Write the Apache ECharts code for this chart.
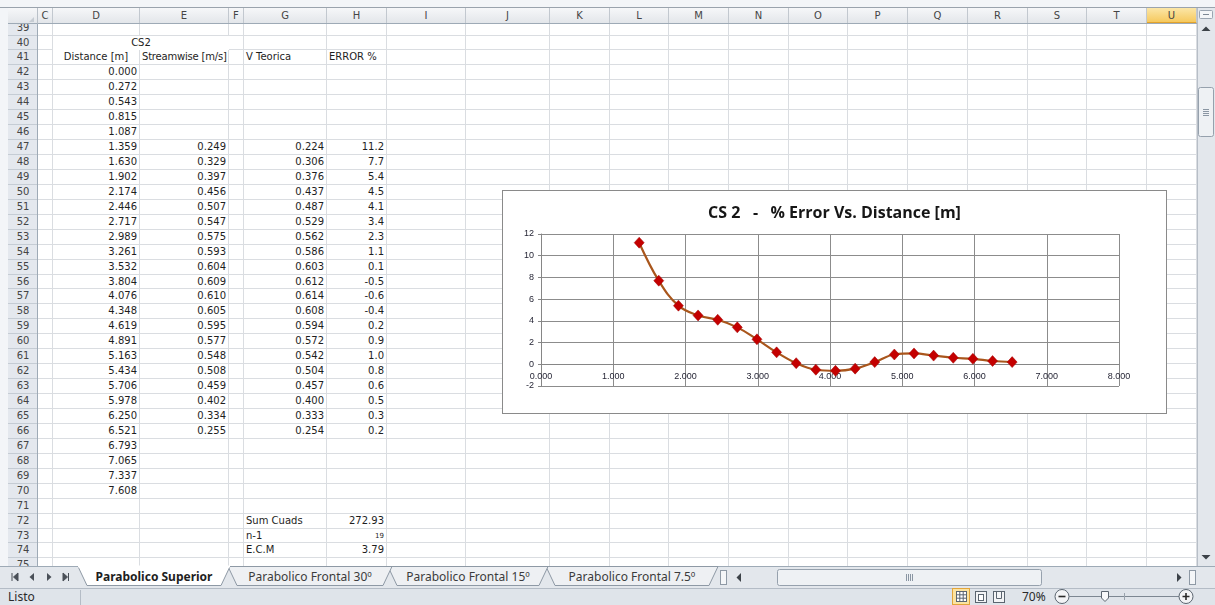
<!DOCTYPE html>
<html>
<head>
<meta charset="utf-8">
<script src="https://cdn.jsdelivr.net/npm/echarts@6/dist/echarts.min.js"></script>
<style>
  body { margin:0; width:1215px; height:605px; overflow:hidden; background:#fff; position:relative;
         font-family:"DejaVu Sans", Verdana, sans-serif; }
  .a { position:absolute; box-sizing:border-box; }
  .txt { font-size:10px; color:#1e1e1e; white-space:nowrap; }
  .hdr { font-size:10px; color:#454545; text-align:center; white-space:nowrap; }
</style>
</head>
<body>
<div id="sheet"></div>
<div id="chart" class="a" style="left:502px;top:190px;width:665px;height:224px;border:1px solid #8a8a8a;background:#fff;"></div>
<svg id="bars" class="a" style="left:0;top:0;" width="1215" height="605"></svg>

<script>
// ---- worksheet values (CS2) ----
const distance = [0.000, 0.272, 0.543, 0.815, 1.087, 1.359, 1.630, 1.902, 2.174, 2.446,
                  2.717, 2.989, 3.261, 3.532, 3.804, 4.076, 4.348, 4.619, 4.891, 5.163,
                  5.434, 5.706, 5.978, 6.250, 6.521, 6.793, 7.065, 7.337, 7.608];
const streamwise = [0.249, 0.329, 0.397, 0.456, 0.507, 0.547, 0.575, 0.593, 0.604, 0.609,
                    0.610, 0.605, 0.595, 0.577, 0.548, 0.508, 0.459, 0.402, 0.334, 0.255];
const vTeorica   = [0.224, 0.306, 0.376, 0.437, 0.487, 0.529, 0.562, 0.586, 0.603, 0.612,
                    0.614, 0.608, 0.594, 0.572, 0.542, 0.504, 0.457, 0.400, 0.333, 0.254];
const errorPct   = [11.2, 7.7, 5.4, 4.5, 4.1, 3.4, 2.3, 1.1, 0.1, -0.5,
                    -0.6, -0.4, 0.2, 0.9, 1.0, 0.8, 0.6, 0.5, 0.3, 0.2];
const summaryLabels = ['Sum Cuads', 'n-1', 'E.C.M'];
const summaryValues = ['272.93', '19', '3.79'];
const sheetTabs = ['Parabolico Superior', 'Parabolico Frontal 30º', 'Parabolico Frontal 15º', 'Parabolico Frontal 7.5º'];
const xTicks = { min: 0, max: 8, step: 1 };
const yTicks = { min: -2, max: 12, step: 2 };

const FIRST_ROW = 39, LAST_ROW = 75;
const DIST_ROW = 42;     // first row of the distance column
const DATA_ROW = 47;     // first row with measured values
const SUM_ROW = 72;

// ---- worksheet layout ----
const cols = [['C',38,53],['D',53,140],['E',140,229],['F',229,244],['G',244,327],['H',327,387],
  ['I',387,466],['J',466,550],['K',550,610],['L',610,669],['M',669,729],['N',729,789],
  ['O',789,848],['P',848,908],['Q',908,968],['R',968,1028],['S',1028,1087],['T',1087,1147],['U',1147,1197]];
const colMap = {}; cols.forEach(c => colMap[c[0]] = c);
const ROW_H = 14.94, ROW40_TOP = 35.5;
const GRID_TOP = 24, GRID_BOTTOM = 566, GRID_LEFT = 38, GRID_RIGHT = 1197;
const rowTop = r => ROW40_TOP + (r - 40) * ROW_H;

const sheet = document.getElementById('sheet');
function box(parent, x, y, w, h, css, text, cls) {
  const d = document.createElement('div');
  d.className = 'a' + (cls ? ' ' + cls : '');
  d.style.cssText = `left:${x}px;top:${y}px;width:${w}px;height:${h}px;` + (css || '');
  if (text != null) d.textContent = text;
  parent.appendChild(d);
  return d;
}

// window strip above the headers
box(sheet, 0, 0, 1215, 8, 'background:#f3f5f8;border-bottom:1px solid #9aa3ad;');
box(sheet, 0, 8, 8, 558, 'background:#f3f5f8;');

// cell area
const area = box(sheet, GRID_LEFT, GRID_TOP, GRID_RIGHT - GRID_LEFT, GRID_BOTTOM - GRID_TOP, 'overflow:hidden;background:#fff;');
cols.forEach(c => box(area, c[2] - GRID_LEFT - 1, 0, 1, GRID_BOTTOM - GRID_TOP, 'background:#dadde1;'));
for (let r = FIRST_ROW; r <= LAST_ROW; r++) {
  box(area, 0, rowTop(r) + ROW_H - GRID_TOP - 1, GRID_RIGHT - GRID_LEFT, 1, 'background:#dadde1;');
}
function cell(col, row, text, align, css) {
  const c = colMap[col];
  const y = rowTop(row) - GRID_TOP;
  box(area, c[1] - GRID_LEFT + 2, y, c[2] - c[1] - 5, ROW_H,
      `line-height:${ROW_H}px;text-align:${align};` + (css || ''), text, 'txt');
}
// merged title over D:E
box(area, colMap.D[1] - GRID_LEFT, rowTop(40) - GRID_TOP, colMap.E[2] - colMap.D[1], ROW_H,
    `line-height:${ROW_H}px;text-align:center;background:#fff;`, 'CS2', 'txt');
cell('D', 41, 'Distance [m]', 'center');
cell('E', 41, 'Streamwise [m/s]', 'center', 'letter-spacing:-0.2px;');
cell('G', 41, 'V Teorica', 'left');
cell('H', 41, 'ERROR %', 'left');
distance.forEach((v, i) => cell('D', DIST_ROW + i, v.toFixed(3), 'right'));
streamwise.forEach((v, i) => cell('E', DATA_ROW + i, v.toFixed(3), 'right'));
vTeorica.forEach((v, i) => cell('G', DATA_ROW + i, v.toFixed(3), 'right'));
errorPct.forEach((v, i) => cell('H', DATA_ROW + i, v.toFixed(1), 'right'));
summaryLabels.forEach((t, i) => cell('G', SUM_ROW + i, t, 'left'));
summaryValues.forEach((t, i) => cell('H', SUM_ROW + i, t, 'right', i === 1 ? 'font-size:7px;' : ''));

// column headers
box(sheet, 8, 8, 30, 16, 'background:linear-gradient(#f6f7f9,#e3e6ea);border-right:1px solid #b9c0c8;border-bottom:1px solid #9eaab6;');
box(sheet, 29, 17, 0, 0, 'border-left:5px solid transparent;border-bottom:5px solid #c6ccd3;');
const colHdr = box(sheet, GRID_LEFT, 8, GRID_RIGHT - GRID_LEFT, 16, 'overflow:hidden;border-bottom:1px solid #9eaab6;background:linear-gradient(#f6f7f9,#e3e6ea);');
cols.forEach(c => {
  const sel = c[0] === 'U';
  box(colHdr, c[1] - GRID_LEFT, 0, c[2] - c[1], 16,
      'line-height:15px;border-right:1px solid #c2c8cf;' +
      (sel ? 'background:linear-gradient(#fbe6a7,#f6c95e);border-bottom:2px solid #e3a32b;' : ''),
      c[0], 'hdr');
});

// row headers
const rowHdr = box(sheet, 8, GRID_TOP, 30, GRID_BOTTOM - GRID_TOP, 'overflow:hidden;background:#e4e8ee;border-right:1px solid #9eaab6;');
for (let r = FIRST_ROW; r <= LAST_ROW; r++) {
  box(rowHdr, 0, rowTop(r) - GRID_TOP, 30, ROW_H,
      `line-height:${ROW_H}px;border-bottom:1px solid #c5ccd4;`, String(r), 'hdr');
}

// scroll bars, sheet tabs and status bar
const svgNS = 'http://www.w3.org/2000/svg';
const svg = document.getElementById('bars');
function el(tag, attrs, text) {
  const e = document.createElementNS(svgNS, tag);
  for (const k in attrs) e.setAttribute(k, attrs[k]);
  if (text != null) e.textContent = text;
  svg.appendChild(e);
  return e;
}
// vertical scroll bar
el('rect', { x: 1197, y: 8, width: 18, height: 558, fill: '#e3e7ec' });
el('line', { x1: 1197.5, y1: 8, x2: 1197.5, y2: 566, stroke: '#b7bec7' });
el('rect', { x: 1199.5, y: 10.5, width: 13, height: 8, fill: '#f4f6f8', stroke: '#9aa5b1', rx: 1 });
el('line', { x1: 1203, y1: 14.5, x2: 1209, y2: 14.5, stroke: '#7d8894' });
el('path', { d: 'M1201.5 31 L1206 26.5 L1210.5 31 Z', fill: '#3c4248' });
el('rect', { x: 1198.5, y: 87.5, width: 15, height: 49, fill: '#eef1f4', stroke: '#96a1ad', rx: 2 });
for (let k = 0; k < 4; k++) el('line', { x1: 1203, y1: 109.5 + k * 2, x2: 1209, y2: 109.5 + k * 2, stroke: '#8a96a3' });
el('path', { d: 'M1201.5 555 L1206 559.5 L1210.5 555 Z', fill: '#3c4248' });

// tab strip
el('rect', { x: 0, y: 566, width: 1215, height: 22, fill: '#e3e7ec' });
el('line', { x1: 0, y1: 566.5, x2: 1215, y2: 566.5, stroke: '#9eaab6' });
// navigation buttons
el('path', { d: 'M12 573 L12 581 M18 573 L13.5 577 L18 581 Z', stroke: '#4a5058', fill: '#4a5058' });
el('path', { d: 'M34 573 L29.5 577 L34 581 Z', fill: '#4a5058' });
el('path', { d: 'M47 573 L51.5 577 L47 581 Z', fill: '#4a5058' });
el('path', { d: 'M63 573 L67.5 577 L63 581 Z M68.5 573 L68.5 581', stroke: '#4a5058', fill: '#4a5058' });
const tabPos = [[78, 230], [228, 392], [388, 548], [546, 718]];
for (let i = sheetTabs.length - 1; i >= 0; i--) {
  const [x0, x1] = tabPos[i];
  const active = i === 0;
  el('path', { d: `M${x0} 566.5 L${x1} 566.5 L${x1 - 9} 585.5 L${x0 + 9} 585.5 Z`,
               fill: active ? '#ffffff' : '#eef0f3', stroke: '#8e99a5' });
  el('text', { x: (x0 + x1) / 2, y: 581, 'text-anchor': 'middle', 'font-family': '"Noto Sans", sans-serif',
               'font-size': 12, 'font-weight': active ? 'bold' : 'normal', fill: active ? '#1e1e1e' : '#3c3c3c' }, sheetTabs[i]);
}
el('line', { x1: 78, y1: 566.5, x2: 230, y2: 566.5, stroke: '#ffffff', 'stroke-width': 2 });
// horizontal scroll bar
el('rect', { x: 720.5, y: 570.5, width: 6, height: 14, fill: '#f4f6f8', stroke: '#8e99a5' });
el('path', { d: 'M741 573 L736.5 577.5 L741 582 Z', fill: '#3c4248' });
el('rect', { x: 777.5, y: 569.5, width: 264, height: 16, fill: '#eef1f4', stroke: '#96a1ad', rx: 2 });
for (let k = 0; k < 4; k++) el('line', { x1: 906.5 + k * 2, y1: 574, x2: 906.5 + k * 2, y2: 581, stroke: '#8a96a3' });
el('path', { d: 'M1177 573 L1181.5 577.5 L1177 582 Z', fill: '#3c4248' });
el('rect', { x: 1189.5, y: 570.5, width: 6, height: 14, fill: '#f4f6f8', stroke: '#8e99a5' });

// status bar
el('rect', { x: 0, y: 588, width: 1215, height: 17, fill: '#dfe4ea' });
el('line', { x1: 0, y1: 588.5, x2: 1215, y2: 588.5, stroke: '#b4bcc6' });
el('line', { x1: 80.5, y1: 590, x2: 80.5, y2: 605, stroke: '#b4bcc6' });
el('text', { x: 8, y: 601, 'font-family': '"Noto Sans", sans-serif', 'font-size': 12, fill: '#2a2a2a' }, 'Listo');
el('rect', { x: 952.5, y: 588.5, width: 17, height: 16, fill: '#fbe3a0', stroke: '#e2a53a' });
el('rect', { x: 956.5, y: 591.5, width: 10, height: 10, fill: '#fff', stroke: '#5b6570' });
el('path', { d: 'M956.5 594.8 H966.5 M956.5 598.2 H966.5 M959.8 591.5 V601.5 M963.2 591.5 V601.5', stroke: '#5b6570' });
el('rect', { x: 975.5, y: 591.5, width: 11, height: 11, fill: '#f3f4f6', stroke: '#5b6570' });
el('rect', { x: 978.5, y: 594.5, width: 5, height: 6, fill: '#fff', stroke: '#5b6570' });
el('rect', { x: 993.5, y: 591.5, width: 11, height: 11, fill: '#f3f4f6', stroke: '#5b6570' });
el('path', { d: 'M996.5 591.5 V598.5 H1001.5 V591.5', fill: 'none', stroke: '#5b6570' });
el('text', { x: 1022, y: 601, 'font-family': '"Noto Sans", sans-serif', 'font-size': 12, fill: '#2a2a2a' }, '70%');
el('circle', { cx: 1062, cy: 596.5, r: 7, fill: '#f3f4f6', stroke: '#5b6570' });
el('line', { x1: 1058.5, y1: 596.5, x2: 1065.5, y2: 596.5, stroke: '#2a2a2a', 'stroke-width': 1.6 });
el('line', { x1: 1069, y1: 596.5, x2: 1179, y2: 596.5, stroke: '#7d8792' });
el('line', { x1: 1124.5, y1: 593, x2: 1124.5, y2: 600, stroke: '#9aa3ad' });
el('path', { d: 'M1101.5 591.5 H1108.5 V598 L1105 601.5 L1101.5 598 Z', fill: '#f7f8fa', stroke: '#5b6570' });
el('circle', { cx: 1186, cy: 596.5, r: 7, fill: '#f3f4f6', stroke: '#5b6570' });
el('path', { d: 'M1182.5 596.5 H1189.5 M1186 593 V600', stroke: '#2a2a2a', 'stroke-width': 1.6 });

// ---- chart: % error against distance ----
const points = errorPct.map((e, i) => [distance[DATA_ROW - DIST_ROW + i], e]);
const labelFont = { fontFamily: '"Liberation Sans", Arial, sans-serif', fontSize: 9, color: '#262636' };
const gridLine = { lineStyle: { color: '#8c8c8c', width: 1 } };
const GRID = { left: 38, right: 47, top: 43, bottom: 27 };
const plotH = 222 - GRID.top - GRID.bottom;
// the category axis crosses the value axis at zero: lift it from the bottom edge to y = 0
const zeroLift = plotH * (0 - yTicks.min) / (yTicks.max - yTicks.min);
const chart = echarts.init(document.getElementById('chart'), null, { renderer: 'canvas' });
chart.setOption({
  animation: false,
  title: {
    text: 'CS 2   -   % Error Vs. Distance [m]',
    left: 'center', top: 9,
    textStyle: { fontFamily: '"Open Sans", Lato, sans-serif', fontWeight: 'bold', fontSize: 16, color: '#161616' }
  },
  grid: GRID,
  xAxis: {
    type: 'value', min: xTicks.min, max: xTicks.max, interval: xTicks.step,
    position: 'bottom', offset: -zeroLift,
    axisLine: { onZero: false, lineStyle: { color: '#868686' } },
    axisTick: { show: false },
    axisLabel: Object.assign({ margin: 8, formatter: v => v.toFixed(3) }, labelFont),
    splitLine: gridLine
  },
  yAxis: {
    type: 'value', min: yTicks.min, max: yTicks.max, interval: yTicks.step,
    axisLine: { show: true, onZero: false, lineStyle: { color: '#868686' } },
    axisTick: { show: true, length: 3, lineStyle: { color: '#868686' } },
    axisLabel: Object.assign({ margin: 7 }, labelFont),
    splitLine: gridLine
  },
  series: [{
    type: 'line',
    data: points,
    smooth: 0.4,
    symbol: 'diamond',
    symbolSize: [10, 11],
    lineStyle: { color: '#a9561c', width: 2.2 },
    itemStyle: { color: '#c40000', borderColor: '#a00000', borderWidth: 0.5 }
  }]
});
</script>
</body>
</html>
